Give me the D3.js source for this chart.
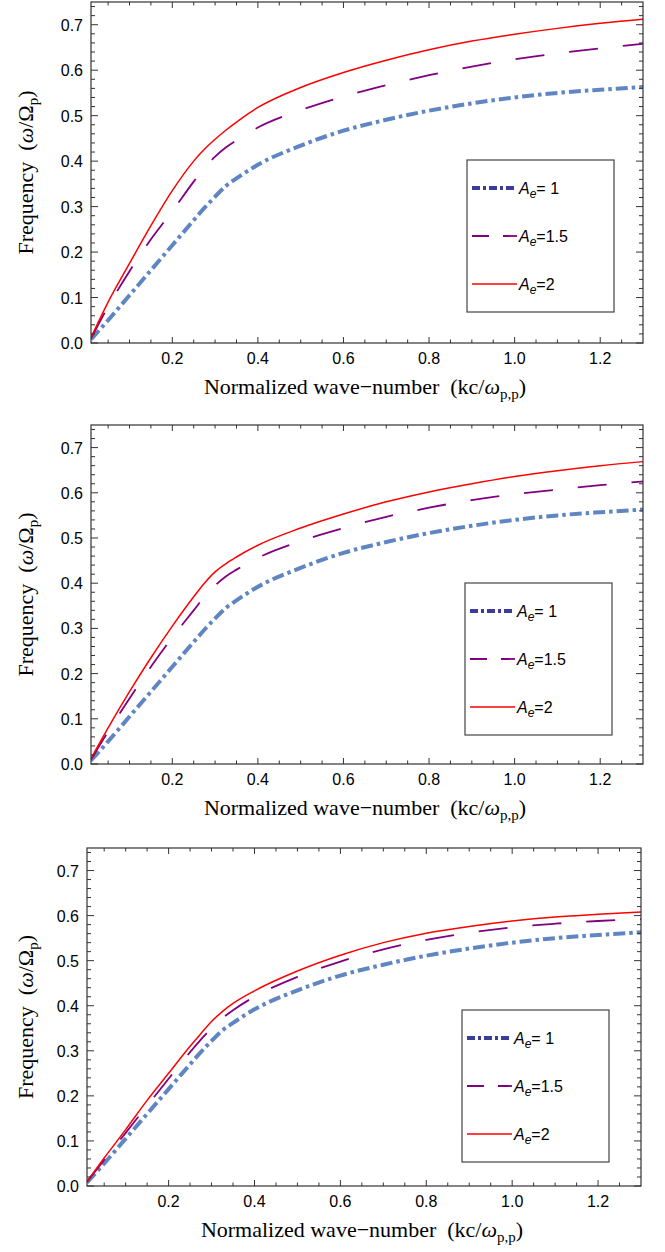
<!DOCTYPE html>
<html>
<head>
<meta charset="utf-8">
<script src="https://cdn.jsdelivr.net/npm/d3@7"></script>
<style>
  body { margin: 0; background: #fff; }
  svg { display: block; }
</style>
</head>
<body>
<div id="chart"></div>
<script>
// normalized wave-number
var kValues = [0.01, 0.05, 0.1, 0.15, 0.2, 0.25, 0.275, 0.3, 0.325, 0.35, 0.4, 0.5, 0.6, 0.7, 0.8, 0.9, 1.0, 1.1, 1.2, 1.3];

// A_e = 1 (same in all three panels)
var omegaA1 = [0.008, 0.05, 0.105, 0.16, 0.215, 0.27, 0.297, 0.322, 0.345, 0.362, 0.392, 0.434, 0.467, 0.491, 0.511, 0.527, 0.54, 0.55, 0.557, 0.563];

// panel 1
var omegaTopA15 = [0.01, 0.08, 0.158, 0.228, 0.29, 0.355, 0.385, 0.41, 0.43, 0.446, 0.474, 0.512, 0.542, 0.567, 0.589, 0.608, 0.624, 0.637, 0.648, 0.658];
var omegaTopA2 = [0.012, 0.09, 0.175, 0.258, 0.335, 0.4, 0.426, 0.448, 0.468, 0.486, 0.518, 0.562, 0.595, 0.622, 0.645, 0.664, 0.679, 0.692, 0.703, 0.712];

// panel 2
var omegaMidA15 = [0.01, 0.072, 0.145, 0.215, 0.28, 0.34, 0.37, 0.395, 0.415, 0.43, 0.456, 0.493, 0.522, 0.547, 0.567, 0.584, 0.597, 0.607, 0.617, 0.625];
var omegaMidA2 = [0.012, 0.08, 0.16, 0.235, 0.305, 0.37, 0.4, 0.425, 0.443, 0.458, 0.484, 0.522, 0.553, 0.58, 0.602, 0.62, 0.636, 0.649, 0.66, 0.669];

// panel 3
var omegaLowA15 = [0.009, 0.058, 0.118, 0.178, 0.238, 0.297, 0.325, 0.35, 0.372, 0.39, 0.42, 0.464, 0.498, 0.525, 0.546, 0.562, 0.574, 0.582, 0.588, 0.592];
var omegaLowA2 = [0.01, 0.062, 0.125, 0.19, 0.25, 0.31, 0.338, 0.365, 0.387, 0.405, 0.433, 0.477, 0.512, 0.54, 0.561, 0.576, 0.588, 0.597, 0.603, 0.608];

var legendLabels = ["= 1", "=1.5", "=2"];
var xTickLabels = [0.2, 0.4, 0.6, 0.8, 1.0, 1.2];
var yTickLabels = [0.0, 0.1, 0.2, 0.3, 0.4, 0.5, 0.6, 0.7];

var panels = [
    {series: [omegaA1, omegaTopA15, omegaTopA2], box: {xmin: 91, xmax: 643, ymin: 2, ymax: 343}, legend: {x: 467, y: 160}},
    {series: [omegaA1, omegaMidA15, omegaMidA2], box: {xmin: 91, xmax: 643, ymin: 425, ymax: 764}, legend: {x: 465, y: 583}},
    {series: [omegaA1, omegaLowA15, omegaLowA2], box: {xmin: 87, xmax: 641, ymin: 848, ymax: 1186}, legend: {x: 462, y: 1010}}
];

var styles = [
    {color: "#5f86c2", width: 4, dash: "12,4,3.5,4", legendColor: "#3c3c9a", legendDash: "8,3,3,3"},
    {color: "#800080", width: 1.8, dash: "29,25", legendColor: "#800080", legendDash: "17,14"},
    {color: "#ff0000", width: 1.5, dash: null, legendColor: "#ff0000", legendDash: null}
];

var svg = d3.select("#chart").append("svg")
    .attr("width", 665)
    .attr("height", 1252);

var frameColor = "#333";
var sans = "'Liberation Sans', Arial, sans-serif";
var serif = "'Liberation Serif', 'Times New Roman', serif";

panels.forEach(function(p, pi) {
    var box = p.box;
    var g = svg.append("g");

    var x = d3.scaleLinear().domain([0.01, 1.3]).range([box.xmin, box.xmax]);
    var y = d3.scaleLinear().domain([0, 0.75]).range([box.ymax, box.ymin]);

    // clip for the curves
    g.append("clipPath")
        .attr("id", "clip" + pi)
        .append("rect")
            .attr("x", box.xmin)
            .attr("y", box.ymin)
            .attr("width", box.xmax - box.xmin)
            .attr("height", box.ymax - box.ymin);

    var line = d3.line()
        .x(function(d) { return x(d[0]); })
        .y(function(d) { return y(d[1]); })
        .curve(d3.curveMonotoneX);

    p.series.forEach(function(vals, si) {
        var st = styles[si];
        g.append("path")
            .datum(kValues.map(function(k, i) { return [k, vals[i]]; }))
            .attr("clip-path", "url(#clip" + pi + ")")
            .attr("fill", "none")
            .attr("stroke", st.color)
            .attr("stroke-width", st.width)
            .attr("stroke-dasharray", st.dash)
            .attr("d", line);
    });

    // ticks, all four sides, pointing in
    var xMinor = d3.range(0.05, 1.3, 0.05).filter(function(v) { return Math.abs(v * 5 - Math.round(v * 5)) > 1e-6; });
    var yMinor = d3.range(0.02, 0.75, 0.02).filter(function(v) { return Math.abs(v * 10 - Math.round(v * 10)) > 1e-6; });

    var ticks = [];
    xTickLabels.forEach(function(v) { ticks.push({x: true, v: v, len: 6}); });
    xMinor.forEach(function(v) { ticks.push({x: true, v: v, len: 3.5}); });
    yTickLabels.forEach(function(v) { ticks.push({x: false, v: v, len: 7}); });
    yMinor.forEach(function(v) { ticks.push({x: false, v: v, len: 4}); });

    ticks.forEach(function(t) {
        if (t.x) {
            var px = x(t.v);
            g.append("line").attr("x1", px).attr("x2", px).attr("y1", box.ymax).attr("y2", box.ymax - t.len)
                .attr("stroke", frameColor).attr("stroke-width", 1);
            g.append("line").attr("x1", px).attr("x2", px).attr("y1", box.ymin).attr("y2", box.ymin + t.len)
                .attr("stroke", frameColor).attr("stroke-width", 1);
        } else {
            var py = y(t.v);
            g.append("line").attr("x1", box.xmin).attr("x2", box.xmin + t.len).attr("y1", py).attr("y2", py)
                .attr("stroke", frameColor).attr("stroke-width", 1);
            g.append("line").attr("x1", box.xmax).attr("x2", box.xmax - t.len).attr("y1", py).attr("y2", py)
                .attr("stroke", frameColor).attr("stroke-width", 1);
        }
    });

    // frame
    g.append("rect")
        .attr("x", box.xmin)
        .attr("y", box.ymin)
        .attr("width", box.xmax - box.xmin)
        .attr("height", box.ymax - box.ymin)
        .attr("fill", "none")
        .attr("stroke", frameColor)
        .attr("stroke-width", 1.2);

    // tick labels
    g.selectAll(".xlab")
        .data(xTickLabels)
        .enter().append("text")
            .attr("x", function(d) { return x(d); })
            .attr("y", box.ymax + 21)
            .attr("text-anchor", "middle")
            .style("font-family", sans)
            .style("font-size", "16px")
            .text(function(d) { return d3.format(".1f")(d); });

    g.selectAll(".ylab")
        .data(yTickLabels)
        .enter().append("text")
            .attr("x", box.xmin - 8)
            .attr("y", function(d) { return y(d) + 6; })
            .attr("text-anchor", "end")
            .style("font-family", sans)
            .style("font-size", "16px")
            .text(function(d) { return d3.format(".1f")(d); });

    // axis titles
    var xt = g.append("text")
        .attr("x", (box.xmin + box.xmax) / 2 - 2)
        .attr("y", box.ymax + 51)
        .attr("text-anchor", "middle")
        .style("font-family", serif)
        .style("font-size", "22px");
    xt.append("tspan").text("Normalized wave\u2212number\u00a0\u00a0(kc/");
    xt.append("tspan").style("font-style", "italic").text("\u03c9");
    xt.append("tspan").attr("dy", 5).style("font-size", "15px").text("p,p");
    xt.append("tspan").attr("dy", -5).text(")");

    var yt = g.append("text")
        .attr("transform", "translate(33," + ((box.ymin + box.ymax) / 2) + ") rotate(-90)")
        .attr("text-anchor", "middle")
        .style("font-family", serif)
        .style("font-size", "22px");
    yt.append("tspan").text("Frequency\u00a0\u00a0(");
    yt.append("tspan").style("font-style", "italic").text("\u03c9");
    yt.append("tspan").text("/\u03a9");
    yt.append("tspan").attr("dy", 5).style("font-size", "15px").text("p");
    yt.append("tspan").attr("dy", -5).text(")");

    // legend
    var lg = g.append("g").attr("transform", "translate(" + p.legend.x + "," + p.legend.y + ")");
    lg.append("rect")
        .attr("width", 147)
        .attr("height", 152)
        .attr("fill", "#fff")
        .attr("stroke", "#444")
        .attr("stroke-width", 1.2);

    legendLabels.forEach(function(lab, i) {
        var st = styles[i];
        var ly = 28 + i * 48;
        lg.append("line")
            .attr("x1", 5).attr("x2", 50)
            .attr("y1", ly).attr("y2", ly)
            .attr("stroke", st.legendColor)
            .attr("stroke-width", i === 0 ? 4 : st.width)
            .attr("stroke-dasharray", st.legendDash);
        var t = lg.append("text")
            .attr("x", 52)
            .attr("y", ly + 6)
            .style("font-family", sans)
            .style("font-size", "16px");
        t.append("tspan").style("font-style", "italic").text("A");
        t.append("tspan").attr("dy", 4).style("font-style", "italic").style("font-size", "12px").text("e");
        t.append("tspan").attr("dy", -4).text(lab);
    });
});
</script>
</body>
</html>
